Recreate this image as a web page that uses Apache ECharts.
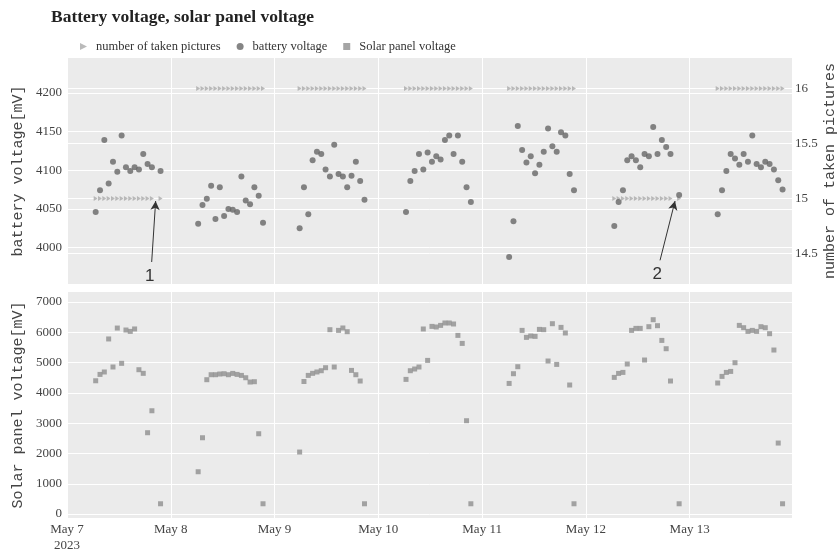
<!DOCTYPE html>
<html>
<head>
<meta charset="utf-8">
<script src="https://cdn.jsdelivr.net/npm/echarts@6/dist/echarts.min.js"></script>
<style>
html,body{margin:0;padding:0;background:#fff;}
#chart{width:839px;height:553px;}
</style>
</head>
<body>
<div id="chart"></div>
<script>
// ---------------- data ----------------
const dayDates = ['2023-05-07','2023-05-08','2023-05-09','2023-05-10','2023-05-11','2023-05-12','2023-05-13'];
const xTickLabels = ['May 7\n2023','May 8','May 9','May 10','May 11','May 12','May 13'];

const readingTimesDay1 = ['06:38','07:38','08:38','09:38','10:38','11:38','12:38','13:38','14:38','15:38','16:38','17:38','18:38','19:38','21:38'];
const readingTimesDay2 = ['06:20','07:20','08:20','09:20','10:20','11:20','12:20','13:20','14:20','15:20','16:20','17:20','18:20','19:20','20:20','21:20'];
const readingTimesDay3 = ['05:48','06:48','07:48','08:48','09:48','10:48','11:48','12:48','13:48','14:48','15:48','16:48','17:48','18:48','19:48','20:48'];
const readingTimesDay4 = ['06:24','07:24','08:24','09:24','10:24','11:24','12:24','13:24','14:24','15:24','16:24','17:24','18:24','19:24','20:24','21:24'];
const readingTimesDay5 = ['06:15','07:15','08:15','09:15','10:15','11:15','12:15','13:15','14:15','15:15','16:15','17:15','18:15','19:15','20:15','21:15'];
const readingTimesDay6 = ['06:34','07:34','08:34','09:34','10:34','11:34','12:34','13:34','14:34','15:34','16:34','17:34','18:34','19:34','21:34'];
const readingTimesDay7 = ['06:29','07:29','08:29','09:29','10:29','11:29','12:29','13:29','14:29','15:29','16:29','17:29','18:29','19:29','20:29','21:29'];
const readingTimes = [readingTimesDay1,readingTimesDay2,readingTimesDay3,readingTimesDay4,readingTimesDay5,readingTimesDay6,readingTimesDay7];

const batteryDay1 = [4046,4074,4139,4083,4111,4098,4145,4104,4099,4104,4101,4121,4108,4104,4099];
const batteryDay2 = [4031,4055,4063,4080,4037,4078,4041,4050,4049,4046,4092,4061,4056,4078,4067,4032];
const batteryDay3 = [4025,4078,4043,4113,4124,4121,4101,4092,4133,4095,4092,4078,4093,4111,4086,4062];
const batteryDay4 = [4046,4086,4099,4121,4101,4123,4111,4118,4114,4139,4145,4121,4145,4111,4078,4059];
const batteryDay5 = [3988,4034,4157,4126,4110,4118,4096,4107,4124,4154,4131,4124,4149,4145,4095,4074];
const batteryDay6 = [4028,4059,4074,4113,4118,4113,4104,4121,4118,4156,4121,4139,4130,4121,4068];
const batteryDay7 = [4043,4074,4099,4121,4115,4107,4121,4111,4145,4108,4104,4111,4108,4101,4087,4075];
const batteryVoltage = [batteryDay1,batteryDay2,batteryDay3,batteryDay4,batteryDay5,batteryDay6,batteryDay7];

const solarDay1 = [4400,4610,4690,5780,4855,6140,4975,6075,6030,6110,4765,4645,2685,3410,340];
const solarDay2 = [1397,2519,4435,4600,4600,4623,4633,4600,4643,4610,4577,4500,4358,4369,2651,340];
const solarDay3 = [2047,4375,4577,4645,4690,4732,4831,6086,4854,6063,6142,6020,4742,4600,4392,340];
const solarDay4 = [4445,4732,4788,4854,6109,5072,6195,6175,6228,6307,6307,6274,5898,5633,3081,340];
const solarDay5 = [4312,4633,4864,6063,5832,5878,5865,6096,6086,5052,6284,4940,6162,5977,4260,340];
const solarDay6 = [4511,4643,4676,4953,6063,6129,6129,5085,6185,6416,6218,5732,5458,4392,340];
const solarDay7 = [4326,4544,4676,4709,4996,6228,6152,6030,6063,6030,6185,6152,5954,5415,2344,340];
const solarVoltage = [solarDay1,solarDay2,solarDay3,solarDay4,solarDay5,solarDay6,solarDay7];

const picturesTaken = [15,16,16,16,16,15,16];

// annotations (time, value on the pictures axis)
const annotationLabels = ['1','2'];
const annotationLabelPos = [['2023-05-07 19:07',14.296],['2023-05-12 16:31',14.312]];
const annotationTail = [['2023-05-07 19:35',14.424],['2023-05-12 17:09',14.439]];
const annotationTip = [['2023-05-07 20:30',14.978],['2023-05-12 20:37',14.978]];

// ---------------- build ----------------
const batteryData = [], solarData = [], pictureData = [];
dayDates.forEach((d, k) => {
  readingTimes[k].forEach((t, i) => {
    const ts = d + ' ' + t;
    batteryData.push([ts, batteryVoltage[k][i]]);
    solarData.push([ts, solarVoltage[k][i]]);
    pictureData.push([ts, picturesTaken[k]]);
  });
});

const serif = 'Liberation Serif';
const mono = 'Liberation Mono';
const DAY = 24 * 3600 * 1000;
const xMin = '2023-05-07 00:00';
const xMax = '2023-05-13 23:40';

const gridBase = {left: 67, right: 47, height: 226, show: true, backgroundColor: '#ebebeb', borderWidth: 0,
                  containLabel: false, outerBoundsMode: 'none'};
const whiteSplit = {show: true, showMinLine: false, showMaxLine: false, lineStyle: {color: '#ffffff', width: 1}};
const tickFont = {fontFamily: serif, fontSize: 13, color: '#444'};
const nameFont = {fontFamily: mono, fontSize: 15, color: '#444', verticalAlign: 'middle'};
const plainNum = v => String(v);

const triPath = 'path://M0,0L10,5L0,10Z';

const chart = echarts.init(document.getElementById('chart'), null, {renderer: 'canvas'});
chart.setOption({
  animation: false,
  backgroundColor: '#ffffff',
  title: {
    text: 'Battery voltage, solar panel voltage',
    left: 46, top: 3,
    textStyle: {fontFamily: serif, fontSize: 17.5, fontWeight: 'bold', color: '#222'}
  },
  legend: {
    left: 75, top: 35,
    itemWidth: 7, itemHeight: 7, itemGap: 16,
    textStyle: {fontFamily: serif, fontSize: 12.5, color: '#333', padding: [0,0,0,4]},
    data: [
      {name: 'number of taken pictures', icon: triPath},
      {name: 'battery voltage', icon: 'circle'},
      {name: 'Solar panel voltage', icon: 'rect'}
    ]
  },
  grid: [
    Object.assign({top: 58}, gridBase),
    Object.assign({top: 292}, gridBase)
  ],
  xAxis: [
    {
      type: 'time', gridIndex: 0, min: xMin, max: xMax,
      minInterval: DAY, maxInterval: DAY,
      axisLabel: {show: false}, axisTick: {show: false}, axisLine: {show: false},
      splitLine: {show: true, lineStyle: {color: '#ffffff', width: 1}}
    },
    {
      type: 'time', gridIndex: 1, min: xMin, max: xMax,
      minInterval: DAY, maxInterval: DAY,
      axisTick: {show: false}, axisLine: {show: false},
      splitLine: {show: true, lineStyle: {color: '#ffffff', width: 1}},
      axisLabel: Object.assign({
        margin: 4, lineHeight: 16, hideOverlap: false,
        formatter: function (value) {
          const dt = new Date(value);
          for (let k = 0; k < dayDates.length; k++) {
            const p = dayDates[k].split('-');
            if (dt.getFullYear() === +p[0] && dt.getMonth() + 1 === +p[1] && dt.getDate() === +p[2] && dt.getHours() === 0) {
              return xTickLabels[k];
            }
          }
          return '';
        }
      }, tickFont)
    }
  ],
  yAxis: [
    {
      type: 'value', gridIndex: 0, position: 'left',
      min: 3953, max: 4245, splitNumber: 6,
      name: 'battery voltage[mV]', nameLocation: 'middle', nameRotate: 90, nameGap: 49, nameMoveOverlap: false,
      nameTextStyle: nameFont,
      axisLine: {show: false}, axisTick: {show: false},
      axisLabel: Object.assign({margin: 5, showMinLabel: false, showMaxLabel: false, formatter: plainNum}, tickFont),
      splitLine: whiteSplit
    },
    {
      type: 'value', gridIndex: 0, position: 'right',
      min: 14.224, max: 16.278, splitNumber: 4,
      name: 'number of taken pictures', nameLocation: 'middle', nameRotate: 90, nameGap: 38, nameMoveOverlap: false,
      nameTextStyle: nameFont,
      axisLine: {show: false}, axisTick: {show: false},
      axisLabel: Object.assign({margin: 3, showMinLabel: false, showMaxLabel: false, formatter: plainNum}, tickFont),
      splitLine: whiteSplit
    },
    {
      type: 'value', gridIndex: 1, position: 'left',
      min: -130, max: 7330, splitNumber: 7,
      name: 'Solar panel voltage[mV]', nameLocation: 'middle', nameRotate: 90, nameGap: 49, nameMoveOverlap: false,
      nameTextStyle: nameFont,
      axisLine: {show: false}, axisTick: {show: false},
      axisLabel: Object.assign({margin: 5, showMinLabel: false, showMaxLabel: false, formatter: plainNum}, tickFont),
      splitLine: whiteSplit
    }
  ],
  series: [
    {
      name: 'number of taken pictures', type: 'scatter',
      xAxisIndex: 0, yAxisIndex: 1,
      symbol: triPath, symbolSize: [4, 5],
      itemStyle: {color: '#a9a9a9'},
      data: pictureData,
      markLine: {
        silent: true, symbol: ['none', 'arrow'], symbolSize: [7, 9],
        lineStyle: {color: '#333', width: 1, type: 'solid'},
        label: {show: false},
        data: annotationTail.map((t, i) => [{coord: t}, {coord: annotationTip[i]}])
      },
      markPoint: {
        silent: true, symbol: 'circle', symbolSize: 1,
        itemStyle: {color: 'rgba(0,0,0,0)'},
        label: {show: true, position: 'inside', color: '#333', fontSize: 17, fontFamily: 'Liberation Sans',
                formatter: p => p.name},
        data: annotationLabelPos.map((c, i) => ({name: annotationLabels[i], coord: c}))
      }
    },
    {
      name: 'battery voltage', type: 'scatter',
      xAxisIndex: 0, yAxisIndex: 0,
      symbol: 'circle', symbolSize: 6,
      itemStyle: {color: '#666666'},
      data: batteryData
    },
    {
      name: 'Solar panel voltage', type: 'scatter',
      xAxisIndex: 1, yAxisIndex: 2,
      symbol: 'rect', symbolSize: 5,
      itemStyle: {color: '#8e8e8e'},
      data: solarData
    }
  ]
});
</script>
</body>
</html>
